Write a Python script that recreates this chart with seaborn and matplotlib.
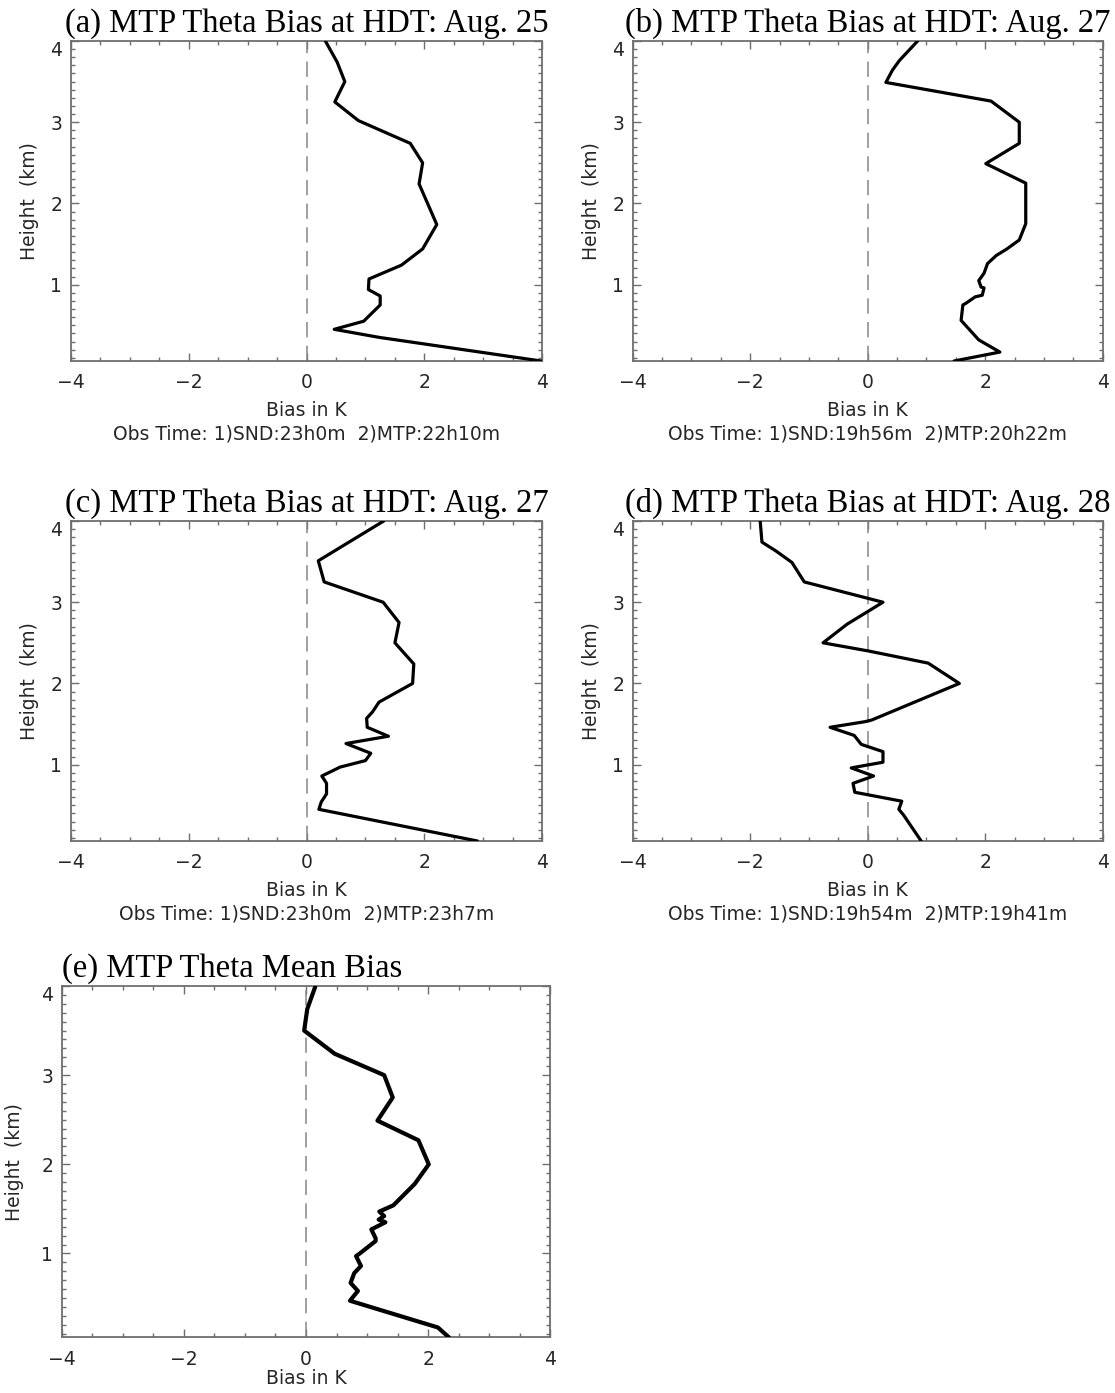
import matplotlib
matplotlib.use("Agg")
import matplotlib.pyplot as plt
import pandas as pd
import seaborn as sns
from matplotlib.ticker import MultipleLocator, FixedLocator

# ---------------- data ----------------
a_bias = [0.32, 0.52, 0.65, 0.48, 0.88, 1.76, 1.97, 1.91, 2.21, 1.97, 1.61, 1.06,
          1.05, 1.25, 1.25, 0.97, 0.47, 1.24, 3.98]
a_height = [4.00, 3.74, 3.50, 3.25, 3.02, 2.74, 2.50, 2.24, 1.74, 1.44, 1.24, 1.07,
            0.94, 0.86, 0.75, 0.55, 0.45, 0.35, 0.06]

b_bias = [0.85, 0.54, 0.42, 0.31, 2.10, 2.58, 2.58, 2.01, 2.69, 2.69, 2.58, 2.37,
          2.19, 2.04, 1.98, 1.89, 1.93, 1.98, 1.95, 1.83, 1.67, 1.62, 1.59, 1.89,
          2.25, 1.47]
b_height = [4.00, 3.76, 3.64, 3.49, 3.26, 3.00, 2.74, 2.49, 2.25, 1.75, 1.55, 1.44,
            1.36, 1.26, 1.14, 1.05, 0.97, 0.96, 0.87, 0.85, 0.77, 0.75, 0.56, 0.32,
            0.17, 0.06]

c_bias = [1.31, 0.20, 0.30, 1.30, 1.57, 1.50, 1.82, 1.80, 1.23, 1.12, 1.02, 1.03,
          1.39, 0.67, 1.09, 1.00, 0.57, 0.26, 0.34, 0.34, 0.25, 0.21, 2.90]
c_height = [4.00, 3.51, 3.25, 3.00, 2.75, 2.50, 2.24, 2.00, 1.77, 1.65, 1.57, 1.46,
            1.35, 1.26, 1.14, 1.05, 0.97, 0.86, 0.77, 0.64, 0.54, 0.45, 0.06]

d_bias = [-1.83, -1.80, -1.56, -1.29, -1.08, 0.26, -0.35, -0.76, 0.01, 1.03, 1.56,
          0.07, -0.04, -0.64, -0.23, -0.11, 0.26, 0.26, -0.28, 0.10, -0.25, -0.22,
          0.58, 0.53, 0.61, 0.91]
d_height = [4.00, 3.74, 3.63, 3.49, 3.25, 3.00, 2.73, 2.50, 2.40, 2.25, 2.00, 1.55,
            1.53, 1.46, 1.36, 1.25, 1.16, 1.03, 0.96, 0.86, 0.77, 0.66, 0.55, 0.45,
            0.38, 0.06]

e_bias = [0.15, 0.02, -0.03, 0.47, 1.28, 1.42, 1.17, 1.84, 2.01, 1.78, 1.43, 1.20,
          1.28, 1.19, 1.30, 1.07, 1.14, 1.14, 0.88, 0.82, 0.90, 0.79, 0.73, 0.85,
          0.72, 2.16, 2.34]
e_height = [3.99, 3.74, 3.50, 3.24, 3.00, 2.75, 2.49, 2.27, 2.00, 1.78, 1.54, 1.47,
            1.42, 1.38, 1.35, 1.27, 1.17, 1.14, 1.00, 0.97, 0.86, 0.78, 0.67, 0.58,
            0.47, 0.17, 0.06]

titles = ["(a) MTP Theta Bias at HDT: Aug. 25",
          "(b) MTP Theta Bias at HDT: Aug. 27",
          "(c) MTP Theta Bias at HDT: Aug. 27",
          "(d) MTP Theta Bias at HDT: Aug. 28",
          "(e) MTP Theta Mean Bias"]
obs_times = ["Obs Time: 1)SND:23h0m  2)MTP:22h10m",
             "Obs Time: 1)SND:19h56m  2)MTP:20h22m",
             "Obs Time: 1)SND:23h0m  2)MTP:23h7m",
             "Obs Time: 1)SND:19h54m  2)MTP:19h41m",
             None]
x_ticks = [-4, -2, 0, 2, 4]
y_ticks = [1, 2, 3, 4]
x_label = "Bias in K"
y_label = "Height  (km)"

# ---------------- style ----------------
sns.set_style("ticks")
plt.rcParams["font.family"] = ["DejaVu Sans"]

W, H = 1115, 1393
fig = plt.figure(figsize=(W / 100, H / 100), dpi=100)


def box(l, t, r, b):
    return fig.add_axes([l / W, 1 - b / H, (r - l) / W, (b - t) / H])


boxes = [(70.7, 41, 542.3, 361), (632.7, 41, 1102.7, 361),
         (70.7, 521, 542.3, 841), (632.7, 521, 1102.7, 841),
         (61.7, 986, 550.3, 1337.3)]
series = [(a_bias, a_height), (b_bias, b_height), (c_bias, c_height),
          (d_bias, d_height), (e_bias, e_height)]

frame = "#6e6e6e"
txt = "#262626"
fs = 13.5

for i, (bx, (xb, yh)) in enumerate(zip(boxes, series)):
    ax = box(*bx)
    df = pd.DataFrame({"bias": xb, "height": yh})
    ax.axvline(0, color="#858585", lw=1.1, dashes=(10, 5.5), zorder=1)
    sns.lineplot(data=df, x="bias", y="height", sort=False, estimator=None,
                 color="black", lw=3.0 if i == 4 else 2.3, ax=ax, zorder=3)
    ax.set_xlim(-4, 4)
    ax.set_ylim(0.06, 4.0)
    ax.xaxis.set_major_locator(FixedLocator(x_ticks))
    ax.xaxis.set_minor_locator(MultipleLocator(0.5))
    ax.yaxis.set_major_locator(FixedLocator(y_ticks))
    ax.yaxis.set_minor_locator(MultipleLocator(0.1))
    ax.tick_params(which="both", direction="in", top=True, right=True,
                   color=frame, width=1.0, labelsize=fs, labelcolor=txt)
    ax.tick_params(which="major", length=6)
    ax.tick_params(which="minor", length=3)
    ax.tick_params(axis="x", which="major", pad=9)
    ax.tick_params(axis="y", which="major", pad=6)
    for s in ax.spines.values():
        s.set_color(frame)
        s.set_linewidth(1.3)
    ax.set_xlabel(x_label, fontsize=fs, color=txt)
    ax.set_ylabel(y_label, fontsize=fs, color=txt)
    hgt = bx[3] - bx[1]
    wid = bx[2] - bx[0]
    if i < 4:
        ax.xaxis.set_label_coords(0.5, -40 / hgt)
        ax.yaxis.set_label_coords(-32 / wid, 0.5)
        ax.text(0.5, -64 / hgt, obs_times[i], transform=ax.transAxes,
                ha="center", va="top", fontsize=fs, color=txt)
        ax.set_title(titles[i], fontfamily="Liberation Serif", fontsize=23.5,
                     pad=7, color="black")
    else:
        ax.xaxis.set_label_coords(0.5, -32 / hgt)
        ax.yaxis.set_label_coords(-38 / wid, 0.5)
        ax.set_title(titles[i], fontfamily="Liberation Serif", fontsize=23.5,
                     pad=7, color="black", loc="left")
    ax.set_yticks(y_ticks)
    ax.set_yticklabels([str(v) for v in y_ticks])
    ax.get_yticklabels()[-1].set_va("top")

fig.savefig("out.png", dpi=100, facecolor="white")
